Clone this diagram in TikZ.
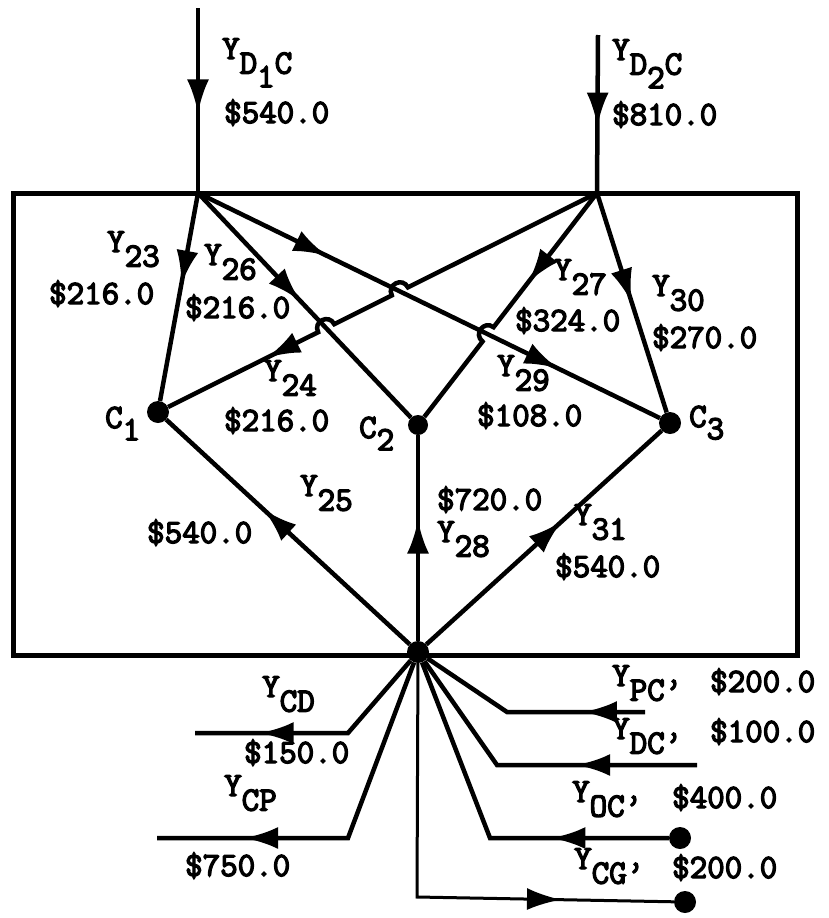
\documentclass[tikz,border=0pt]{standalone}
\usepackage{fontspec}
\newfontfamily\typew[FakeBold=4]{Latin Modern Mono}
\usetikzlibrary{arrows.meta, calc, decorations.markings}

\newcommand{\ysub}[1]{Y\raisebox{-0.43em}{#1}}
\newcommand{\csub}[1]{C\raisebox{-0.36em}{#1}}

\begin{document}
\begin{tikzpicture}[
    x=1pt, y=-1pt,
    flow/.style={draw, line width=4.5pt},
    thinflow/.style={draw, line width=3pt},
    mid/.style={postaction={decorate, decoration={markings, mark=at position #1 with {\arrow{Latex[length=34pt,width=22pt]}}}}},
    dot/.style={circle, fill, inner sep=0pt, minimum size=#1},
    lbl/.style={anchor=base west, inner sep=0pt, font=\typew\fontsize{34}{34}\selectfont}
]
    \useasboundingbox (0,0) rectangle (828,918);

    % box
    \draw[line width=5pt] (13,193) rectangle (797,655);

    % points
    \coordinate (D1) at (198,193);
    \coordinate (D2) at (597,193);
    \coordinate (D1in) at (198,8);
    \coordinate (D2in) at (598,35);
    \node[dot=22pt] (C1) at (158,412) {};
    \node[dot=20pt] (C2) at (418,425) {};
    \node[dot=22pt] (C3) at (670,423) {};
    \node[dot=22pt] (hub) at (418,652) {};

    % inputs
    \draw[flow, mid=0.57] (D1in) -- (D1);
    \draw[flow, mid=0.58] (D2in) -- (D2);

    % from D1
    \draw[flow, mid=0.44] (D1) -- (C1);
    \draw[flow, mid=0.48] (D1) -- (C2);
    \draw[flow, mid=0.28, mid=0.78] (D1) -- (C3);

    % crossings
    \coordinate (x1) at (intersection of D2--C1 and D1--C3);
    \coordinate (x2) at (intersection of D2--C1 and D1--C2);
    \coordinate (x3) at (intersection of D2--C2 and D1--C3);
    \coordinate (x1a) at ($(x1)!9pt!(D2)$);
    \coordinate (x1b) at ($(x1)!9pt!(C1)$);
    \coordinate (x2a) at ($(x2)!9pt!(D2)$);
    \coordinate (x2b) at ($(x2)!9pt!(C1)$);
    \coordinate (x3a) at ($(x3)!9pt!(D2)$);
    \coordinate (x3b) at ($(x3)!9pt!(C2)$);

    % from D2
    \draw[flow, mid=0.78] (D2) -- (x1a) .. controls ($(x1a)!12pt!-90:(x1b)$) and ($(x1b)!12pt!90:(x1a)$) .. (x1b)
        -- (x2a) .. controls ($(x2a)!12pt!-90:(x2b)$) and ($(x2b)!12pt!90:(x2a)$) .. (x2b) -- (C1);
    \draw[flow, mid=0.385] (D2) -- (x3a) .. controls ($(x3a)!12pt!-90:(x3b)$) and ($(x3b)!12pt!90:(x3a)$) .. (x3b) -- (C2);
    \draw[flow, mid=0.5] (D2) -- (C3);

    % from hub
    \draw[flow, mid=0.6] (hub) -- (C1);
    \draw[flow, mid=0.59] (hub) -- (C2);
    \draw[flow, mid=0.575] (hub) -- (C3);

    % below the box
    \coordinate (cdk) at (348,733);
    \coordinate (cdout) at (195,733);
    \draw[flow, mid=0.74] (hub) -- (cdk) -- (cdout);
    \coordinate (cpk) at (348,838);
    \coordinate (cpout) at (157,838);
    \draw[flow, mid=0.77] (hub) -- (cpk) -- (cpout);
    \coordinate (pcin) at (645,712);
    \coordinate (pck) at (507,712);
    \draw[flow, mid=0.265] (pcin) -- (pck) -- (hub);
    \coordinate (dcin) at (697,765);
    \coordinate (dck) at (497,765);
    \draw[flow, mid=0.37] (dcin) -- (dck) -- (hub);
    \node[dot=22pt] (oc) at (680,838) {};
    \coordinate (ock) at (490,838);
    \draw[flow, mid=0.32] (oc) -- (ock) -- (hub);
    \node[dot=22pt] (cg) at (685,902) {};
    \coordinate (cgk) at (417,897);
    \draw[thinflow, mid=0.77] (hub) -- (cgk) -- (cg);

    % labels
    \node[lbl] (ld1) at (222,59) {\ysub{D\raisebox{-0.4em}{1}C}};
    \node[lbl] (ad1) at (224,123) {\$540.0};
    \node[lbl] (ld2) at (612,60) {\ysub{D\raisebox{-0.4em}{2}C}};
    \node[lbl] (ad2) at (612,125) {\$810.0};
    \node[lbl] (l23) at (107,252) {\ysub{23}};
    \node[lbl] (a23) at (49,304) {\$216.0};
    \node[lbl] (l26) at (204,265) {\ysub{26}};
    \node[lbl] (a26) at (185,318) {\$216.0};
    \node[lbl] (l24) at (264,381) {\ysub{24}};
    \node[lbl] (a24) at (224,431) {\$216.0};
    \node[lbl] (lc1) at (105,428) {\csub{1}};
    \node[lbl] (lc2) at (359,438) {\csub{2}};
    \node[lbl] (lc3) at (689,427) {\csub{3}};
    \node[lbl] (l27) at (554,280) {\ysub{27}};
    \node[lbl] (a27) at (515,331) {\$324.0};
    \node[lbl] (l30) at (652,296) {\ysub{30}};
    \node[lbl] (a30) at (652,348) {\$270.0};
    \node[lbl] (l29) at (497,376) {\ysub{29}};
    \node[lbl] (a29) at (477,426) {\$108.0};
    \node[lbl] (l25) at (300,496) {\ysub{25}};
    \node[lbl] (a25) at (147,543) {\$540.0};
    \node[lbl] (l28) at (437,542) {\ysub{28}};
    \node[lbl] (a28) at (437,510) {\$720.0};
    \node[lbl] (l31) at (574,525) {\ysub{31}};
    \node[lbl] (a31) at (555,577) {\$540.0};
    \node[lbl] (lcd) at (262,697) {\ysub{CD}};
    \node[lbl] (acd) at (244,763) {\$150.0};
    \node[lbl] (lcp) at (224,796) {\ysub{CP}};
    \node[lbl] (acp) at (185,876) {\$750.0};
    \node[lbl] (lpc) at (612,686) {\ysub{PC’}};
    \node[lbl] (apc) at (710,692) {\$200.0};
    \node[lbl] (ldc) at (612,739) {\ysub{DC’}};
    \node[lbl] (adc) at (710,742) {\$100.0};
    \node[lbl] (loc) at (572,802) {\ysub{OC’}};
    \node[lbl] (aoc) at (672,808) {\$400.0};
    \node[lbl] (lcg) at (574,869) {\ysub{CG’}};
    \node[lbl] (acg) at (672,878) {\$200.0};
\end{tikzpicture}
\end{document}
